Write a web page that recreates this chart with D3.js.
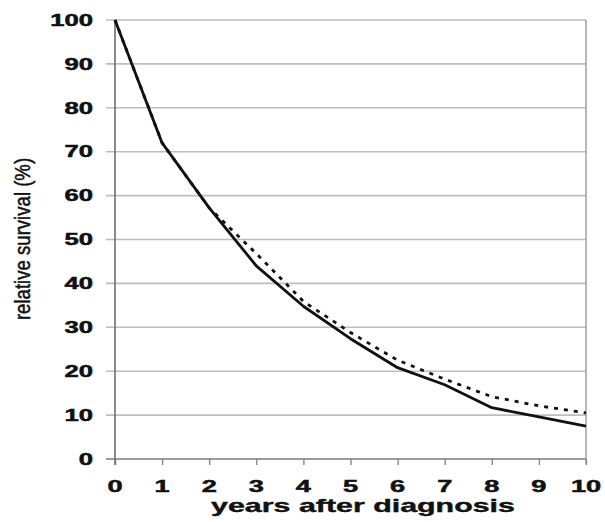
<!DOCTYPE html>
<html>
<head>
<meta charset="utf-8">
<script src="https://cdn.jsdelivr.net/npm/d3@7"></script>
<style>
  html, body { margin: 0; padding: 0; background: #fff; }
  svg { display: block; }
  text { font-family: "Liberation Sans", Arial, sans-serif; fill: #111; }
</style>
</head>
<body>
<svg id="chart" width="605" height="522"></svg>
<script>
// Relative survival by years after diagnosis
const years = [0, 1, 2, 3, 4, 5, 6, 7, 8, 9, 10];
const survivalObserved = [100, 72, 57.2, 44, 34.8, 27.4, 20.8, 16.9, 11.7, 9.6, 7.5];
const survivalDotted   = [100, 72, 57.2, 46.8, 35.9, 28.8, 22.5, 18.2, 14.2, 12.1, 10.5];
const yTicks = [0, 10, 20, 30, 40, 50, 60, 70, 80, 90, 100];
const xTicks = years;

const svg = d3.select("#chart");
const m = { left: 115, right: 586, top: 20, bottom: 459 };
const stretch = 1.6; // wide lettering

const x = d3.scaleLinear().domain([0, 10]).range([m.left, m.right]);
const y = d3.scaleLinear().domain([0, 100]).range([m.bottom, m.top]);

// horizontal gridlines (extend left as ticks)
svg.append("g")
  .selectAll("line")
  .data(yTicks.filter(d => d > 0))
  .join("line")
  .attr("x1", m.left - 9).attr("x2", m.right)
  .attr("y1", d => y(d)).attr("y2", d => y(d))
  .attr("stroke", "#bdbdbd").attr("stroke-width", 1.6);

// right border
svg.append("line")
  .attr("x1", m.right).attr("x2", m.right)
  .attr("y1", m.top).attr("y2", m.bottom + 5)
  .attr("stroke", "#9a9a9a").attr("stroke-width", 1.4);

// x axis
const xAxis = svg.append("g")
  .attr("transform", `translate(0,${m.bottom})`)
  .call(d3.axisBottom(x).tickValues(xTicks).tickSize(6).tickFormat(""));
xAxis.select(".domain").remove();
xAxis.selectAll(".tick line").attr("stroke", "#8a8a8a").attr("stroke-width", 1.4);
svg.append("line")
  .attr("x1", m.left - 9).attr("x2", m.right)
  .attr("y1", m.bottom).attr("y2", m.bottom)
  .attr("stroke", "#7a7a7a").attr("stroke-width", 1.6);

// y axis line
svg.append("line")
  .attr("x1", m.left).attr("x2", m.left)
  .attr("y1", m.top).attr("y2", m.bottom + 6)
  .attr("stroke", "#6f6f6f").attr("stroke-width", 1.6);

// tick labels
svg.append("g")
  .selectAll("text")
  .data(yTicks)
  .join("text")
  .attr("transform", d => `translate(93,${y(d)}) scale(${stretch},1)`)
  .attr("text-anchor", "end")
  .attr("dy", "0.36em")
  .attr("font-size", 16)
  .attr("font-weight", "bold")
  .attr("stroke", "#111").attr("stroke-width", 0.5)
  .text(d => d);

svg.append("g")
  .selectAll("text")
  .data(xTicks)
  .join("text")
  .attr("transform", d => `translate(${x(d)},492) scale(${stretch},1)`)
  .attr("text-anchor", "middle")
  .attr("font-size", 17)
  .attr("font-weight", "bold")
  .attr("stroke", "#111").attr("stroke-width", 0.5)
  .text(d => d);

// axis titles
svg.append("text")
  .attr("transform", `translate(363,512) scale(${stretch},1)`)
  .attr("text-anchor", "middle")
  .attr("font-size", 19)
  .attr("font-weight", "bold")
  .attr("stroke", "#111").attr("stroke-width", 0.4)
  .text("years after diagnosis");

svg.append("text")
  .attr("transform", `translate(30,239) rotate(-90) scale(1.24,1.43)`)
  .attr("text-anchor", "middle")
  .attr("font-size", 15)
  .attr("stroke", "#111").attr("stroke-width", 0.35)
  .text("relative survival (%)");

// survival curves
const line = d3.line().x((d, i) => x(years[i])).y(d => y(d));

svg.append("path")
  .datum(survivalDotted)
  .attr("d", line)
  .attr("fill", "none")
  .attr("stroke", "#111")
  .attr("stroke-width", 2.8)
  .attr("stroke-dasharray", "4,6");

svg.append("path")
  .datum(survivalObserved)
  .attr("d", line)
  .attr("fill", "none")
  .attr("stroke", "#111")
  .attr("stroke-width", 2.8)
  .attr("stroke-linejoin", "round");
</script>
</body>
</html>
